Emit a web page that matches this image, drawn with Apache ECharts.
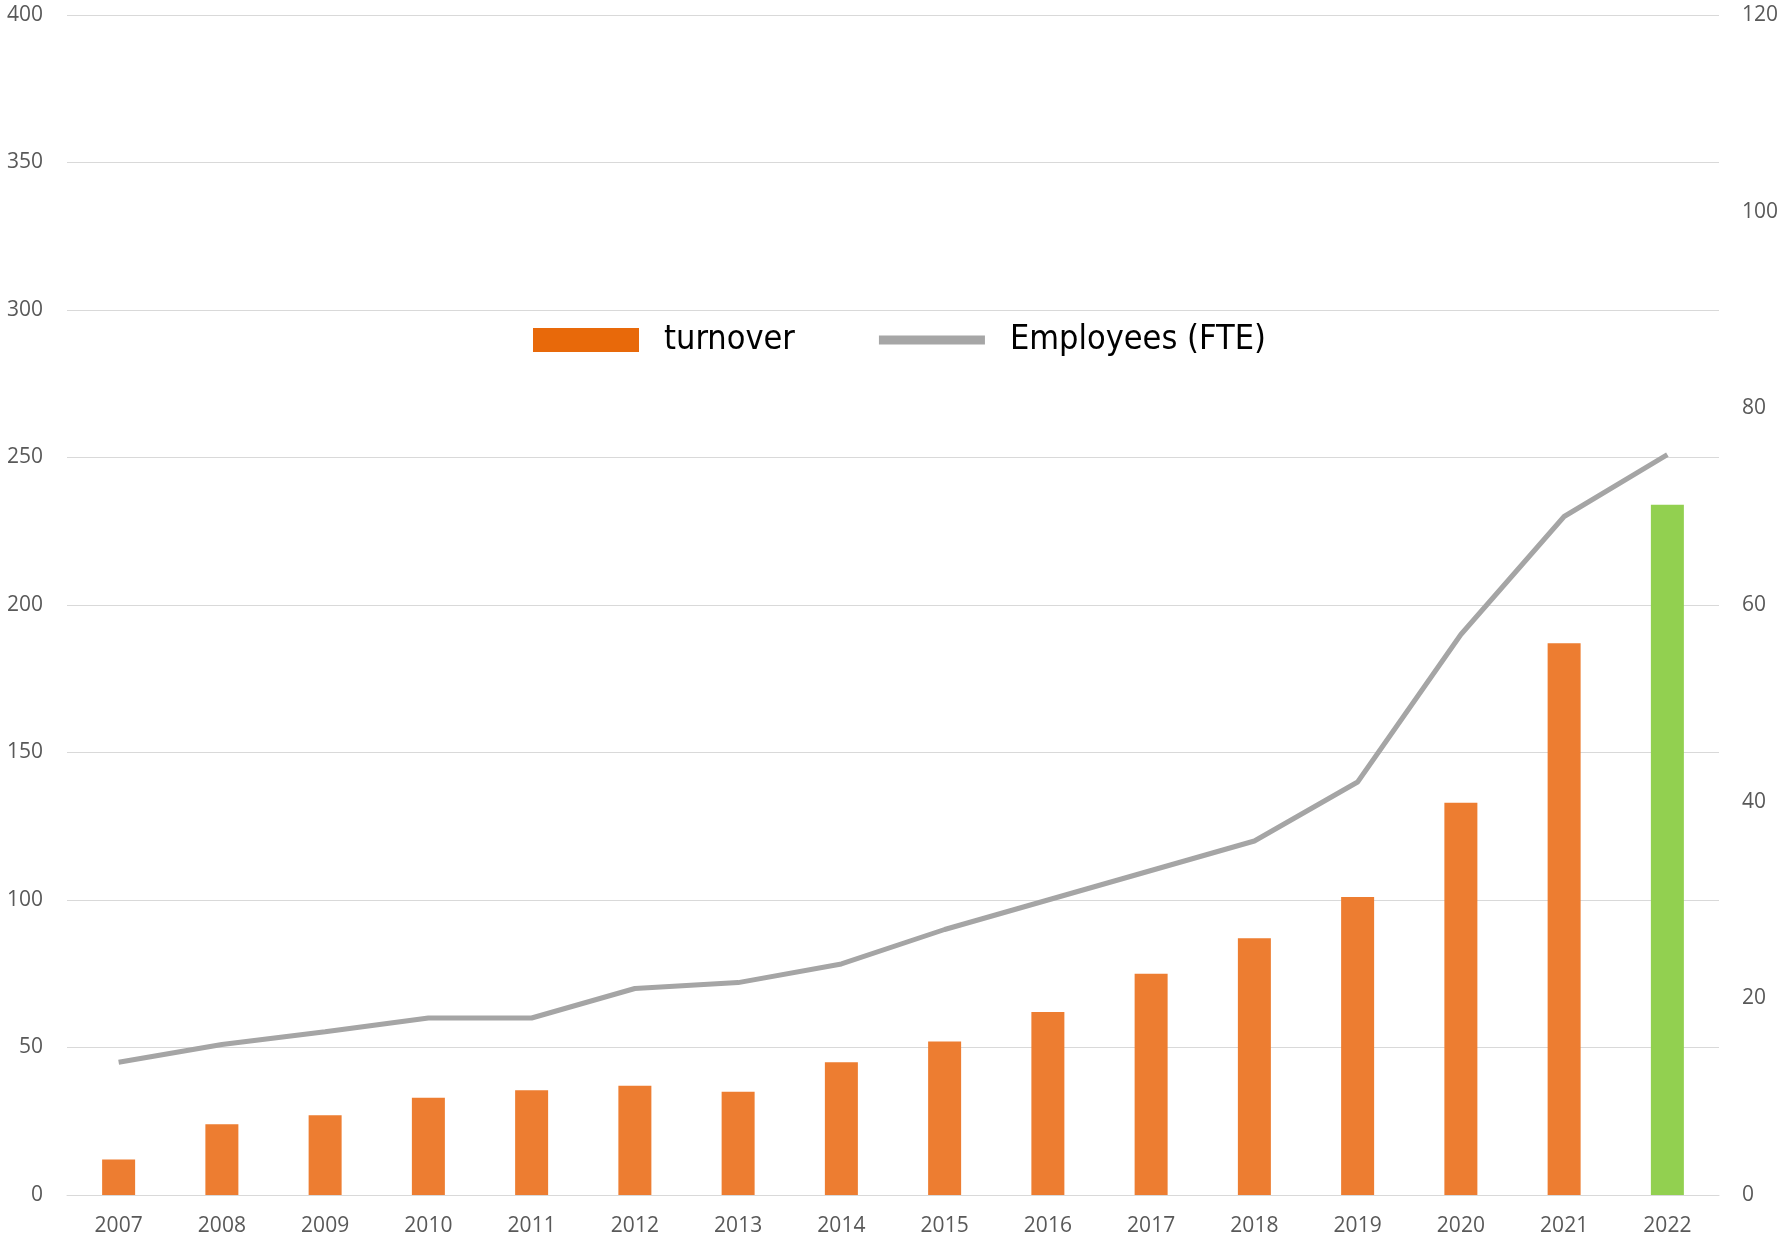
<!DOCTYPE html>
<html>
<head>
<meta charset="utf-8">
<script src="https://cdn.jsdelivr.net/npm/echarts@6/dist/echarts.min.js"></script>
<style>
html,body{margin:0;padding:0;background:#fff;}
#chart{width:1783px;height:1237px;}
</style>
</head>
<body>
<div id="chart"></div>
<script>
const years = ['2007','2008','2009','2010','2011','2012','2013','2014','2015','2016','2017','2018','2019','2020','2021','2022'];
const turnover = [12, 24, 27, 33, 35.5, 37, 35, 45, 52, 62, 75, 87, 101, 133, 187, 234];
const employees = [13.5, 15.3, 16.6, 18, 18, 21, 21.6, 23.5, 27, 30, 33, 36, 42, 57, 69, 75.3];
const leftTicks = {min: 0, max: 400, interval: 50};
const rightTicks = {min: 0, max: 120, interval: 20};

const chart = echarts.init(document.getElementById('chart'), null, {renderer: 'canvas'});
const tickFont = {fontFamily: "'Open Sans', sans-serif", fontSize: 21, color: '#595959'};
chart.setOption({
  animation: false,
  backgroundColor: '#ffffff',
  grid: {left: 67, right: 64, top: 15, bottom: 42, containLabel: false},
  legend: {
    left: 528, top: 318,
    itemWidth: 106, itemHeight: 24, itemGap: 84,
    textStyle: {fontFamily: "'DejaVu Sans Condensed', 'Liberation Sans Narrow', Roboto, sans-serif", fontSize: 34, color: '#000', padding: [0,0,0,20]},
    data: [
      {name: 'turnover', icon: 'rect', itemStyle: {color: '#E8690A'}},
      {name: 'Employees (FTE)', icon: 'path://M0,0H106V9H0Z', itemStyle: {color: '#A6A6A6'}}
    ]
  },
  xAxis: {
    type: 'category', data: years,
    axisLine: {lineStyle: {color: '#D9D9D9', width: 1}},
    axisTick: {show: false},
    axisLabel: Object.assign({margin: 21}, tickFont)
  },
  yAxis: [
    {type: 'value', min: leftTicks.min, max: leftTicks.max, interval: leftTicks.interval, position: 'left',
     axisLine: {show: false}, axisTick: {show: false},
     splitLine: {lineStyle: {color: '#D9D9D9', width: 1}},
     axisLabel: Object.assign({margin: 24}, tickFont)},
    {type: 'value', min: rightTicks.min, max: rightTicks.max, interval: rightTicks.interval, position: 'right',
     axisLine: {show: false}, axisTick: {show: false}, splitLine: {show: false},
     axisLabel: Object.assign({margin: 23}, tickFont)}
  ],
  series: [
    {name: 'turnover', type: 'bar', data: turnover, barWidth: 33, yAxisIndex: 0,
     itemStyle: {color: function (p) { return p.dataIndex === turnover.length - 1 ? '#92D050' : '#ED7D31'; }}},
    {name: 'Employees (FTE)', type: 'line', data: employees, yAxisIndex: 1,
     symbol: 'none', lineStyle: {color: '#A5A5A5', width: 5}, itemStyle: {color: '#A5A5A5'}}
  ]
});
</script>
</body>
</html>
